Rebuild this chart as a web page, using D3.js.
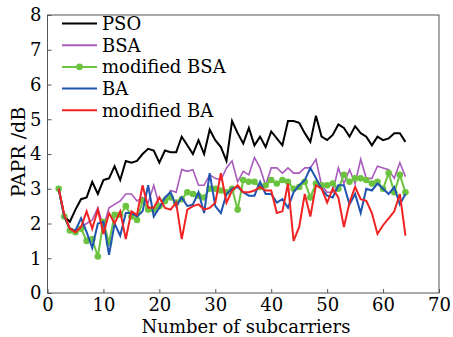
<!DOCTYPE html>
<html lang="en">
<head>
<meta charset="UTF-8">
<title>PAPR vs number of subcarriers</title>
<script src="https://d3js.org/d3.v7.min.js"></script>
<style>
  body { margin: 0; background: #fff; }
  text { font-family: "DejaVu Serif", serif; }
</style>
</head>
<body>
<div id="chart"></div>
<script>
// x values: number of subcarriers 2..64
const subcarriers = d3.range(2, 65);

const psoValues = [3.0, 2.2, 2.05, 2.4, 2.7, 2.75, 3.2, 2.85, 3.25, 3.3, 3.65, 3.25, 3.8, 3.75, 3.8, 4.0, 4.15, 4.1, 3.75, 4.1, 4.05, 4.05, 4.5, 4.25, 4.0, 4.4, 4.0, 4.7, 4.4, 4.2, 3.8, 4.95, 4.6, 4.3, 4.75, 4.25, 4.5, 4.2, 4.65, 4.45, 4.25, 4.95, 4.95, 4.9, 4.6, 4.35, 5.1, 4.5, 4.4, 4.55, 4.85, 4.75, 4.5, 4.8, 4.6, 4.5, 4.25, 4.5, 4.4, 4.45, 4.6, 4.6, 4.35];
const bsaValues = [3.0, 2.2, 1.85, 1.8, 1.9, 2.0, 2.1, 2.45, 1.9, 2.45, 2.55, 2.65, 2.85, 2.85, 2.65, 2.75, 2.6, 3.1, 2.5, 2.6, 2.95, 2.9, 3.55, 3.5, 3.55, 3.1, 3.1, 3.4, 3.3, 3.25, 3.6, 3.8, 3.2, 3.5, 3.4, 3.9, 3.6, 3.1, 3.6, 3.6, 3.45, 3.6, 3.45, 3.45, 3.6, 3.6, 3.85, 3.1, 2.9, 2.9, 3.6, 3.15, 3.55, 3.15, 3.85, 3.3, 3.3, 3.65, 3.6, 3.55, 3.3, 3.75, 3.35];
const modBsaValues = [3.0, 2.2, 1.8, 1.75, 1.85, 1.5, 1.55, 1.05, 2.05, 1.45, 2.25, 2.25, 2.5, 2.2, 2.1, 2.65, 2.4, 2.4, 2.5, 2.65, 2.75, 2.6, 2.7, 2.9, 2.85, 2.8, 2.75, 3.0, 3.0, 2.95, 2.9, 3.0, 2.4, 3.25, 3.2, 3.2, 3.05, 3.1, 3.25, 3.15, 3.25, 3.2, 3.0, 3.05, 3.2, 2.75, 3.15, 3.1, 3.1, 3.15, 3.0, 3.4, 3.2, 3.3, 3.3, 3.25, 3.15, 3.2, 3.0, 3.45, 2.9, 3.4, 2.9];
const baValues = [3.0, 2.2, 1.85, 1.8, 2.15, 1.75, 1.3, 2.0, 2.05, 1.1, 2.0, 1.65, 2.3, 2.3, 2.2, 2.35, 3.1, 2.2, 2.45, 2.75, 2.9, 2.5, 2.75, 2.5, 2.55, 2.9, 2.3, 3.45, 2.5, 2.3, 2.85, 3.0, 3.05, 2.9, 2.8, 2.8, 3.2, 2.85, 2.85, 2.6, 2.7, 2.45, 2.9, 3.1, 3.25, 3.6, 3.3, 3.0, 2.8, 2.75, 3.1, 3.1, 2.55, 2.85, 2.3, 3.0, 2.95, 3.15, 3.0, 2.85, 3.05, 2.55, 2.85];
const modBaValues = [3.0, 2.25, 1.85, 1.75, 1.9, 2.35, 1.85, 2.4, 1.7, 2.3, 2.0, 2.35, 1.55, 2.35, 2.25, 3.1, 2.45, 2.45, 2.75, 2.45, 2.4, 2.6, 1.55, 2.4, 2.5, 2.55, 2.4, 2.45, 2.6, 3.45, 2.6, 2.95, 3.1, 2.9, 2.9, 2.95, 3.05, 2.95, 2.95, 2.3, 2.35, 3.15, 1.5, 1.9, 2.85, 2.2, 3.1, 3.0, 2.6, 3.0, 2.75, 1.9, 2.6, 3.05, 2.7, 2.65, 2.3, 1.7, 1.95, 2.15, 2.35, 2.85, 1.65];

const seriesNames = ['PSO', 'BSA', 'modified BSA', 'BA', 'modified BA'];
const seriesColors = ['#000000', '#a95bbb', '#6cc33f', '#1f55b0', '#f02222'];
const seriesValues = [psoValues, bsaValues, modBsaValues, baValues, modBaValues];
const seriesMarkers = [false, false, true, false, false];

const xTicks = [0, 10, 20, 30, 40, 50, 60, 70];
const yTicks = [0, 1, 2, 3, 4, 5, 6, 7, 8];

const W = 453, H = 337;
const margin = { top: 15, right: 14, bottom: 44, left: 47.5 };

const svg = d3.select('#chart').append('svg')
  .attr('width', W)
  .attr('height', H);

const x = d3.scaleLinear().domain([0, 70]).range([margin.left, W - margin.right]);
const y = d3.scaleLinear().domain([0, 8]).range([H - margin.bottom, margin.top]);

// axes with inward ticks
svg.append('g')
  .attr('transform', `translate(0,${H - margin.bottom})`)
  .call(d3.axisBottom(x).tickValues(xTicks).tickSizeInner(-4).tickSizeOuter(0).tickPadding(5))
  .call(g => g.select('.domain').remove())
  .call(g => g.selectAll('line').attr('stroke', '#555'))
  .call(g => g.selectAll('text').attr('font-size', 18).attr('font-family', '"DejaVu Serif", serif').attr('fill', '#000'));

svg.append('g')
  .attr('transform', `translate(${margin.left},0)`)
  .call(d3.axisLeft(y).tickValues(yTicks).tickSizeInner(-4).tickSizeOuter(0).tickPadding(6))
  .call(g => g.select('.domain').remove())
  .call(g => g.selectAll('line').attr('stroke', '#555'))
  .call(g => g.selectAll('text').attr('font-size', 18).attr('font-family', '"DejaVu Serif", serif').attr('fill', '#000'));

// frame
svg.append('rect')
  .attr('x', margin.left)
  .attr('y', margin.top)
  .attr('width', W - margin.left - margin.right)
  .attr('height', H - margin.top - margin.bottom)
  .attr('fill', 'none')
  .attr('stroke', '#555')
  .attr('stroke-width', 1);

const line = d3.line()
  .x((d, i) => x(subcarriers[i]))
  .y(d => y(d));

seriesValues.forEach((vals, k) => {
  svg.append('path')
    .datum(vals)
    .attr('fill', 'none')
    .attr('stroke', seriesColors[k])
    .attr('stroke-width', k === 1 ? 1.6 : 2)
    .attr('stroke-linejoin', 'miter')
    .attr('d', line);
  if (seriesMarkers[k]) {
    svg.append('g').selectAll('circle')
      .data(vals)
      .join('circle')
      .attr('cx', (d, i) => x(subcarriers[i]))
      .attr('cy', d => y(d))
      .attr('r', 3.3)
      .attr('fill', seriesColors[k]);
  }
});

// legend
const legend = svg.append('g').attr('transform', 'translate(62,23.5)');
seriesNames.forEach((name, k) => {
  const row = legend.append('g').attr('transform', `translate(0,${k * 21.7})`);
  row.append('line')
    .attr('x1', 0).attr('x2', 35)
    .attr('stroke', seriesColors[k])
    .attr('stroke-width', 2);
  if (seriesMarkers[k]) {
    row.append('circle').attr('cx', 17.5).attr('r', 3.3).attr('fill', seriesColors[k]);
  }
  row.append('text')
    .attr('x', 40)
    .attr('y', 6.5)
    .attr('font-size', 18)
    .attr('fill', '#000')
    .text(name);
});

// axis titles
svg.append('text')
  .attr('x', 246)
  .attr('y', 333)
  .attr('text-anchor', 'middle')
  .attr('font-size', 18)
  .attr('fill', '#000')
  .text('Number of subcarriers');

svg.append('text')
  .attr('transform', 'translate(25,152) rotate(-90)')
  .attr('text-anchor', 'middle')
  .attr('font-size', 19)
  .attr('fill', '#000')
  .text('PAPR /dB');
</script>
</body>
</html>
